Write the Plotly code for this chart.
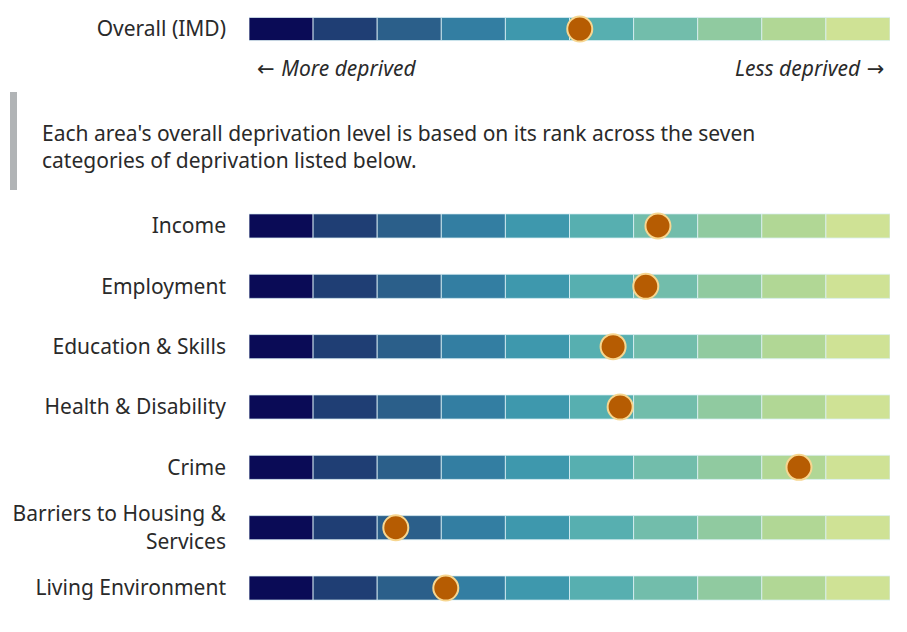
import plotly.graph_objects as go
from plotly.subplots import make_subplots

# ---- data ----
overall_label = ["Overall (IMD)"]
overall_value = [5.16]

domains = [
    "Income",
    "Employment",
    "Education & Skills",
    "Health & Disability",
    "Crime",
    "Barriers to Housing &<br>Services",
    "Living Environment",
]
domain_values = [6.38, 6.19, 5.68, 5.79, 8.58, 2.29, 3.07]

deciles = list(range(1, 11))
decile_colors = ["#0a0b56", "#1f3e74", "#2b5f8a", "#337ea2", "#3e98ad",
                 "#57afb0", "#72bdab", "#90caa0", "#b1d795", "#cfe295"]

# ---- figure ----
fig = make_subplots(rows=2, cols=1)

FONT = "Noto Sans"
TXT = "#2a2a2a"
FS = 21
ARROW = "<span style='font-family:DejaVu Sans'>{}</span>"

def add_row(categories, values, row):
    for d, col in zip(deciles, decile_colors):
        fig.add_trace(go.Bar(
            x=[1] * len(categories), y=categories, base=[d - 1] * len(categories),
            orientation="h", marker=dict(color=col, line=dict(color="rgba(220,240,245,0.8)", width=1)),
            width=0.4, showlegend=False, hoverinfo="skip"), row=row, col=1)
    fig.add_trace(go.Scatter(
        x=values, y=categories, mode="markers",
        marker=dict(size=25, color="#b65c02", line=dict(color="#f7d690", width=2)),
        showlegend=False, hoverinfo="skip"), row=row, col=1)

add_row(overall_label, overall_value, 1)
add_row(domains, domain_values, 2)

x0, x1 = 249 / 907, 890 / 907
fig.update_layout(
    width=907, height=632, margin=dict(l=0, r=0, t=0, b=0),
    paper_bgcolor="white", plot_bgcolor="white",
    barmode="overlay",
    font=dict(family=FONT, size=FS, color=TXT),
    xaxis=dict(domain=[x0, x1], range=[0, 10], visible=False, fixedrange=True),
    xaxis2=dict(domain=[x0, x1], range=[0, 10], visible=False, fixedrange=True),
    yaxis=dict(domain=[1 - 58 / 632, 1], range=[-0.5, 0.5], showgrid=False, zeroline=False,
               showline=False, ticks="", ticklabelstandoff=22, tickfont=dict(size=FS),
               fixedrange=True),
    yaxis2=dict(domain=[1 - 618.2 / 632, 1 - 195.8 / 632], range=[6.5, -0.5], showgrid=False,
                zeroline=False, showline=False, ticks="", ticklabelstandoff=22,
                tickfont=dict(size=FS), fixedrange=True),
    shapes=[dict(type="rect", xref="paper", yref="paper",
                 x0=10 / 907, x1=17 / 907, y0=1 - 190 / 632, y1=1 - 92 / 632,
                 fillcolor="#b1b4b6", line=dict(width=0))],
    annotations=[
        dict(text=ARROW.format("←\u00a0") + "<i>More deprived</i>", xref="paper", yref="paper",
             x=255 / 907, y=1 - 68 / 632, xanchor="left", yanchor="middle",
             showarrow=False, font=dict(size=FS, color=TXT)),
        dict(text="<i>Less deprived</i>" + ARROW.format("\u00a0→"), xref="paper", yref="paper",
             x=886 / 907, y=1 - 68 / 632, xanchor="right", yanchor="middle",
             showarrow=False, font=dict(size=FS, color=TXT)),
        dict(text="Each area's overall deprivation level is based on its rank across the seven<br>"
                  "categories of deprivation listed below.",
             xref="paper", yref="paper", x=40 / 907, y=1 - 146 / 632,
             xanchor="left", yanchor="middle", align="left", showarrow=False,
             font=dict(size=FS, color=TXT)),
    ],
)

fig.write_html("out.html", config={"displayModeBar": False},
               post_script="document.body.style.margin='0px';")
